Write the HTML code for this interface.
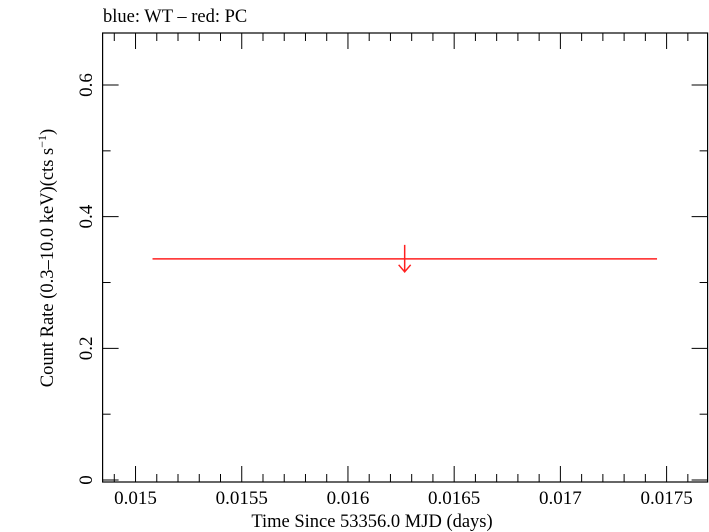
<!DOCTYPE html>
<html><head><meta charset="utf-8"><style>
html,body{margin:0;padding:0;background:#fff;width:709px;height:532px;overflow:hidden}
svg text{font-family:"Liberation Serif",serif;fill:#000}
</style></head><body>
<svg id="chart" width="709" height="532" viewBox="0 0 709 532" xmlns="http://www.w3.org/2000/svg">
<text x="103" y="22" font-size="18.5">blue: WT – red: PC</text>
<rect x="102.6" y="33" width="605" height="449" fill="none" stroke="#000" stroke-width="1.2"/>
<g id="ticks"></g>
<g id="marks"></g>
<text x="372" y="527" font-size="18.5" text-anchor="middle">Time Since 53356.0 MJD (days)</text>
<text transform="translate(53,258) rotate(-90)" font-size="18.5" text-anchor="middle">Count Rate (0.3–10.0 keV)(cts s<tspan font-size="12" dy="-7">−1</tspan><tspan dy="7">)</tspan></text>
</svg>
<script>
const xTicks=[0.015,0.0155,0.016,0.0165,0.017,0.0175];
const xTickLabels=["0.015","0.0155","0.016","0.0165","0.017","0.0175"];
const yTicks=[0,0.2,0.4,0.6];
const yTickLabels=["0","0.2","0.4","0.6"];
const pcTimeStart=[0.01508];
const pcTimeEnd=[0.017455];
const pcTimeMid=[0.016267];
const pcRate=[0.336];
const X0=0.014845,X1=0.017693,PL=102.6,PR=707.6;
const Y0=-0.003,Y1=0.679,PB=482,PT=33;
const sx=v=>PL+(v-X0)/(X1-X0)*(PR-PL);
const sy=v=>PB-(v-Y0)/(Y1-Y0)*(PB-PT);
const NS="http://www.w3.org/2000/svg";
function mk(tag,attrs,parent){const e=document.createElementNS(NS,tag);for(const k in attrs)e.setAttribute(k,attrs[k]);parent.appendChild(e);return e;}
const tg=document.getElementById('ticks');
for(let v=0.0149;v<=0.01769;v+=0.0001){
  const r=Math.round(v*10000)/10000;const major=Math.abs(r*2000-Math.round(r*2000))<1e-6;
  const x=sx(r),len=major?16:8;
  const t1=mk('line',{x1:x,x2:x,y1:PB,y2:PB-len,stroke:'#000','stroke-width':1},tg);
  
  
  const t2=mk('line',{x1:x,x2:x,y1:PT,y2:PT+len,stroke:'#000','stroke-width':1},tg);
  
  
}
xTicks.forEach((v,i)=>{const t=mk('text',{x:sx(v),y:504,'font-size':19,'text-anchor':'middle'},tg);t.textContent=xTickLabels[i];
  
  });
for(let k=0;k<=6;k++){const v=k*0.1,y=sy(v),len=k%2===0?16:8;
  const a=mk('line',{x1:PL,x2:PL+len,y1:y,y2:y,stroke:'#000','stroke-width':1},tg);
  
  
  const b=mk('line',{x1:PR,x2:PR-len,y1:y,y2:y,stroke:'#000','stroke-width':1},tg);
  
  }
yTicks.forEach((v,i)=>{const y=sy(v);const t=mk('text',{transform:`translate(92,${y}) rotate(-90)`,'font-size':19,'text-anchor':'middle'},tg);t.textContent=yTickLabels[i];
  
  });
const mg=document.getElementById('marks');
pcRate.forEach((r,i)=>{const y=sy(r);
  const l=mk('line',{x1:sx(pcTimeStart[i]),x2:sx(pcTimeEnd[i]),y1:y,y2:y,stroke:'#ff2020','stroke-width':1.5},mg);
  
  
  const x=sx(pcTimeMid[i]);
  const a=mk('path',{d:`M${x},${y-14} L${x},${y+13} M${x-6},${y+6} L${x},${y+13} L${x+6},${y+6}`,stroke:'#ff2020','stroke-width':1.5,fill:'none'},mg);
  
  
});
</script>
</body></html>
